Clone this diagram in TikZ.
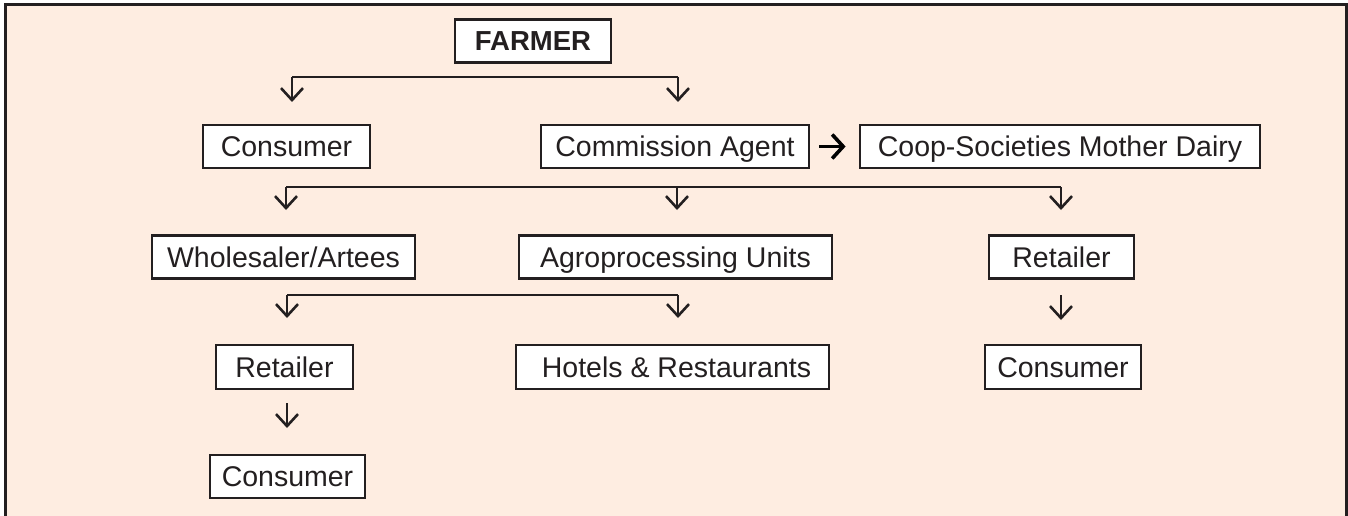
\documentclass[tikz,border=0pt]{standalone}
\usepackage{fontspec}
\setmainfont{Liberation Sans}
\usetikzlibrary{arrows.meta,calc}
\definecolor{peach}{RGB}{254,237,225}
\definecolor{ink}{RGB}{35,31,32}
\begin{document}
\begin{tikzpicture}[x=1pt,y=-1pt,
  box/.style={draw=ink,line width=2.8pt,fill=white,text=ink,inner sep=0pt,
    minimum height=43pt,text height=26pt,text depth=6pt,
    font=\fontsize{28.5}{30}\selectfont},
  conn/.style={draw=ink,line width=2.6pt},
  arr/.style={conn,-{Straight Barb[length=12pt,width=22pt]}},
  harr/.style={draw=black,line width=3.6pt,-{Straight Barb[length=11pt,width=24pt]}}]
\useasboundingbox (0,0) rectangle (1348,516);
\fill[white] (0,0) rectangle (1348,516);
\fill[peach] (5.5,5) rectangle (1346,516);
\draw[ink,line width=3pt] (5.5,516) -- (5.5,5) -- (1346,5) -- (1346,516);

% nodes
\node[box,minimum width=156pt,font=\fontsize{27.5}{29}\selectfont\bfseries] (farmer) at (533,41) {FARMER};
\node[box,minimum width=167pt] (consA) at (286.5,146.5) {Consumer};
\node[box,minimum width=268pt] (comm) at (675,146.5) {Commission Agent};
\node[box,minimum width=400pt] (coop) at (1060,146.5) {Coop-Societies Mother Dairy};
\node[box,minimum width=263pt] (whole) at (283.5,257) {Wholesaler/Artees};
\node[box,minimum width=313pt] (agro) at (675.5,257) {Agroprocessing Units};
\node[box,minimum width=145pt] (retR) at (1061.5,257) {Retailer};
\node[box,minimum width=137pt,minimum height=44pt] (retL) at (284.5,367) {Retailer};
\node[box,minimum width=313pt,minimum height=44pt] (hotels) at (672.5,367) {\hspace*{8pt}Hotels \& Restaurants};
\node[box,minimum width=156pt,minimum height=44pt] (consR) at (1063,367) {Consumer};
\node[box,minimum width=155pt] (consL) at (287.5,476.5) {Consumer};

% branch 1 (from FARMER)
\coordinate (b1L) at (292,77);
\coordinate (b1R) at (678,77);
\coordinate (t1L) at (292,102);
\coordinate (t1R) at (678,102);
\draw[conn] (b1L) -- (b1R);
\draw[arr] (b1L) -- (t1L);
\draw[arr] (b1R) -- (t1R);

% commission -> coop
\draw[harr] ($(comm.east)+(9,0)$) coordinate (h1) -- ($(coop.west)+(-13,0)$) coordinate (h2);

% branch 2 (from Commission Agent)
\coordinate (b2L) at (286,187);
\coordinate (b2M) at (677,187);
\coordinate (b2R) at (1061,187);
\coordinate (t2L) at (286,210);
\coordinate (t2M) at (677,210);
\coordinate (t2R) at (1061,210);
\draw[conn] (b2L) -- (b2R);
\draw[arr] (b2L) -- (t2L);
\draw[arr] (b2M) -- (t2M);
\draw[arr] (b2R) -- (t2R);

% branch 3 (from Wholesaler)
\coordinate (b3L) at (287,295);
\coordinate (b3R) at (678,295);
\coordinate (t3L) at (287,318);
\coordinate (t3R) at (678,318);
\draw[conn] (b3L) -- (b3R);
\draw[arr] (b3L) -- (t3L);
\draw[arr] (b3R) -- (t3R);

% single arrows
\draw[arr] (1061,295) coordinate (s1a) -- (1061,320) coordinate (s1b);
\draw[arr] (287,403) coordinate (s2a) -- (287,428) coordinate (s2b);
\end{tikzpicture}
\end{document}
